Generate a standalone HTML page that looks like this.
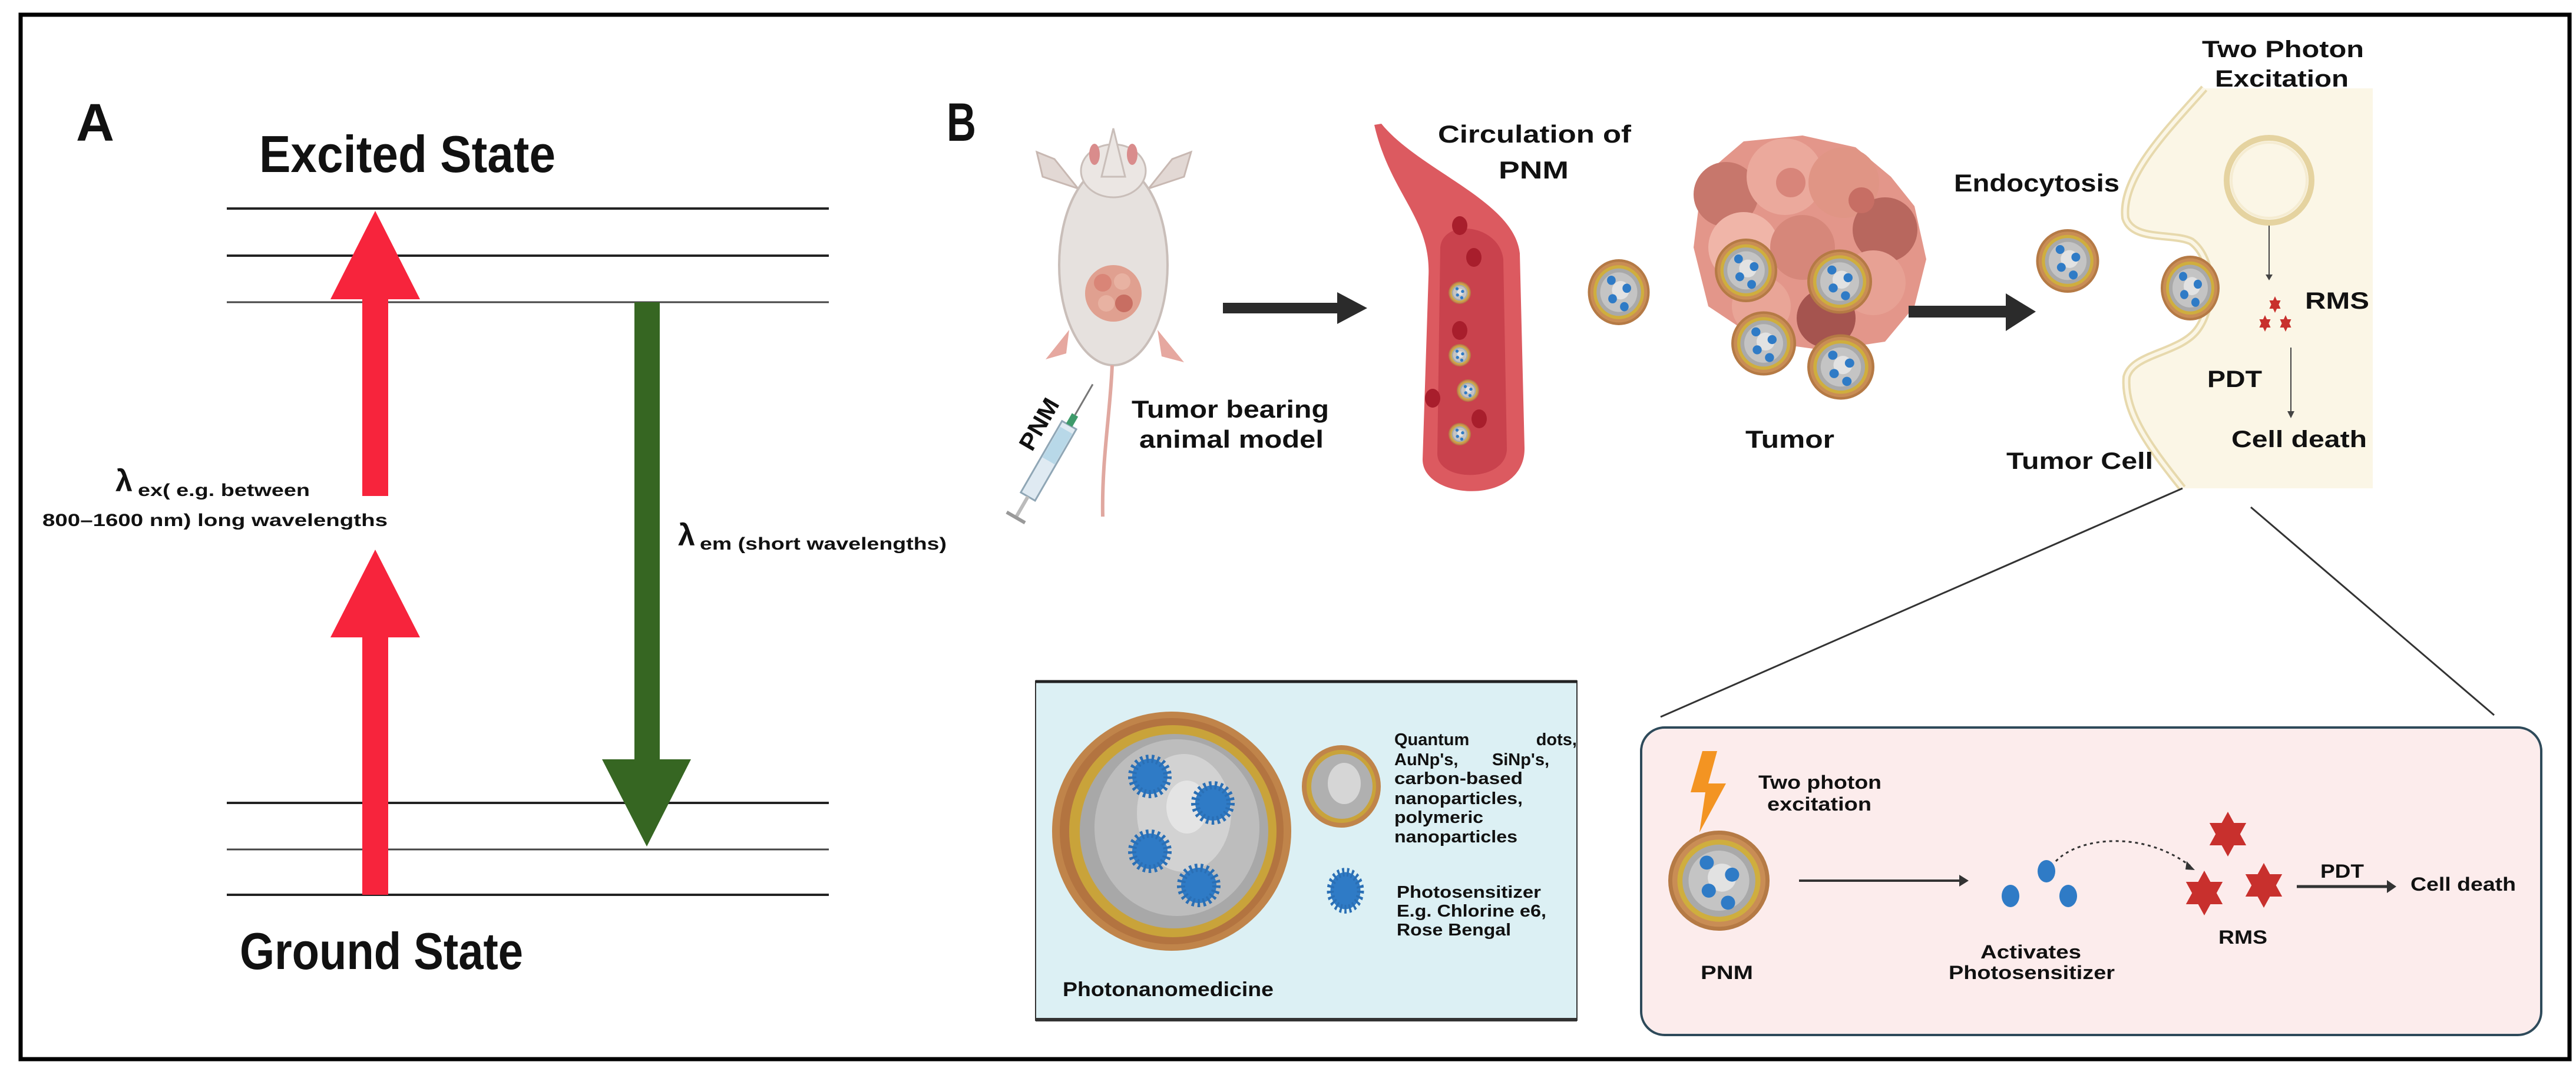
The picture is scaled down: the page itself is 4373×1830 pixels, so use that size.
<!DOCTYPE html>
<html><head><meta charset="utf-8"><style>
html,body{margin:0;padding:0;background:#fff;}
svg{display:block;}
text{font-family:"Liberation Sans",sans-serif;font-weight:bold;fill:#111;}
</style></head><body>
<svg width="4373" height="1830" viewBox="0 0 4373 1830" xmlns="http://www.w3.org/2000/svg">
<defs>
<g id="np">
<circle r="50" fill="#b57a45"/>
<circle r="46" fill="#c98d55"/>
<circle r="41" fill="#cfae3e"/>
<circle r="36" fill="#a9a9a9"/>
<circle r="30" fill="#c4c4c4"/>
<circle r="14" cx="3" cy="-3" fill="#e2e2e2"/>
<circle r="7" cx="-12" cy="-18" fill="#2f7bc6"/>
<circle r="7" cx="13" cy="-6" fill="#2f7bc6"/>
<circle r="7" cx="-10" cy="10" fill="#2f7bc6"/>
<circle r="7" cx="9" cy="22" fill="#2f7bc6"/>
</g>
<polygon id="star" points="0,-1 0.289,-0.5 0.866,-0.5 0.577,0 0.866,0.5 0.289,0.5 0,1 -0.289,0.5 -0.866,0.5 -0.577,0 -0.866,-0.5 -0.289,-0.5" fill="#c8302d"/>
<g id="ps"><circle r="30" fill="#2f7bc6" stroke="#2a6fb5" stroke-width="14" stroke-dasharray="4 5"/></g>
</defs>

<!-- outer frame -->
<rect x="35" y="25" width="4327" height="1773" fill="none" stroke="#000" stroke-width="7"/>

<!-- Panel A -->
<text x="129" y="239" font-size="90">A</text>
<text x="440" y="292" font-size="88" textLength="503" lengthAdjust="spacingAndGlyphs">Excited  State</text>
<g stroke="#222" stroke-width="4">
<line x1="385" y1="354" x2="1407" y2="354"/>
<line x1="385" y1="434" x2="1407" y2="434"/>
<line x1="385" y1="513" x2="1407" y2="513" stroke="#444" stroke-width="3"/>
<line x1="385" y1="1363" x2="1407" y2="1363"/>
<line x1="385" y1="1442" x2="1407" y2="1442" stroke="#444" stroke-width="3"/>
<line x1="385" y1="1519" x2="1407" y2="1519"/>
</g>
<rect x="615" y="506" width="44" height="336" fill="#f7243c"/>
<polygon points="637,358 561,508 713,508" fill="#f7243c"/>
<rect x="615" y="1080" width="44" height="439" fill="#f7243c"/>
<polygon points="637,933 561,1082 713,1082" fill="#f7243c"/>
<rect x="1077" y="513" width="43" height="778" fill="#366622"/>
<polygon points="1022,1289 1173,1289 1098,1437" fill="#366622"/>
<text x="196" y="834" font-size="52">λ</text>
<text x="234" y="842" font-size="30" textLength="292" lengthAdjust="spacingAndGlyphs">ex( e.g. between</text>
<text x="72" y="893" font-size="30" textLength="586" lengthAdjust="spacingAndGlyphs">800–1600 nm) long wavelengths</text>
<text x="1151" y="926" font-size="52">λ</text>
<text x="1188" y="933" font-size="30" textLength="419" lengthAdjust="spacingAndGlyphs">em (short wavelengths)</text>
<text x="407" y="1645" font-size="88" textLength="481" lengthAdjust="spacingAndGlyphs">Ground State</text>

<!-- Panel B -->
<text x="1607" y="239" font-size="92" textLength="50" lengthAdjust="spacingAndGlyphs">B</text>

<!-- mouse -->
<g>
<path d="M1790,270 L1760,258 L1770,300 L1830,320 Z" fill="#e2d8d4" stroke="#c8b8b2" stroke-width="3"/>
<path d="M1990,270 L2022,258 L2010,300 L1950,320 Z" fill="#e2d8d4" stroke="#c8b8b2" stroke-width="3"/>
<ellipse cx="1890" cy="450" rx="92" ry="170" fill="#e6e1de" stroke="#c9beb9" stroke-width="4"/>
<ellipse cx="1890" cy="290" rx="55" ry="45" fill="#ebe6e3" stroke="#c9beb9" stroke-width="3"/>
<path d="M1870,300 L1890,218 L1910,300 Z" fill="#ebe6e3" stroke="#c9beb9" stroke-width="3"/>
<ellipse cx="1858" cy="262" rx="9" ry="18" fill="#d98c8c"/>
<ellipse cx="1922" cy="262" rx="9" ry="18" fill="#d98c8c"/>
<path d="M1815,560 L1775,610 L1810,600 Z" fill="#e6a8a0"/>
<path d="M1965,560 L2010,615 L1972,605 Z" fill="#e6a8a0"/>
<ellipse cx="1890" cy="498" rx="48" ry="48" fill="#e0a090"/>
<circle cx="1872" cy="480" r="15" fill="#d98577"/><circle cx="1905" cy="478" r="14" fill="#e8b2a2"/>
<circle cx="1878" cy="515" r="14" fill="#e8b2a2"/><circle cx="1908" cy="515" r="15" fill="#c86e62"/>
<path d="M1888,620 C1885,700 1870,780 1872,877" stroke="#e0a8a0" stroke-width="6" fill="none"/>
</g>
<!-- syringe -->
<g transform="translate(1790,765) rotate(-60)">
<rect x="-90" y="-14" width="140" height="28" fill="#dfeaf2" stroke="#8fa6b5" stroke-width="3"/>
<rect x="-20" y="-12" width="60" height="24" fill="#b8d8e8"/>
<rect x="50" y="-6" width="20" height="12" fill="#3e9a6a"/>
<line x1="70" y1="0" x2="130" y2="0" stroke="#777" stroke-width="3"/>
<rect x="-130" y="-3" width="40" height="6" fill="#bbb"/>
<rect x="-134" y="-18" width="6" height="36" fill="#999"/>
</g>
<text transform="translate(1752,768) rotate(-60)" font-size="40" textLength="95" lengthAdjust="spacingAndGlyphs">PNM</text>
<text x="1921" y="709" font-size="42" textLength="335" lengthAdjust="spacingAndGlyphs">Tumor bearing</text>
<text x="1934" y="760" font-size="42" textLength="313" lengthAdjust="spacingAndGlyphs">animal model</text>

<!-- arrow 1 -->
<rect x="2076" y="514" width="200" height="18" fill="#2b2b2b"/>
<polygon points="2270,496 2321,523 2270,550" fill="#2b2b2b"/>

<!-- vessel -->
<path d="M2333,212 C2360,330 2430,370 2425,470 L2415,780 C2415,850 2590,860 2588,760 L2580,430 C2570,340 2410,290 2345,210 Z" fill="#dc5a60"/>
<path d="M2445,420 L2440,770 C2440,820 2560,820 2558,760 L2552,440 C2545,380 2450,370 2445,420 Z" fill="#c9424d"/>
<g fill="#a81e2c">
<ellipse cx="2478" cy="383" rx="13" ry="16"/><ellipse cx="2502" cy="437" rx="13" ry="16"/>
<ellipse cx="2478" cy="561" rx="13" ry="16"/><ellipse cx="2432" cy="676" rx="13" ry="16"/>
<ellipse cx="2511" cy="711" rx="13" ry="16"/></g>
<use href="#np" transform="translate(2478,497) scale(0.38)"/>
<use href="#np" transform="translate(2478,603) scale(0.38)"/>
<use href="#np" transform="translate(2492,663) scale(0.38)"/>
<use href="#np" transform="translate(2478,737) scale(0.38)"/>
<text x="2441" y="242" font-size="42" textLength="328" lengthAdjust="spacingAndGlyphs">Circulation of</text>
<text x="2544" y="303" font-size="42" textLength="119" lengthAdjust="spacingAndGlyphs">PNM</text>
<use href="#np" transform="translate(2748,496) scale(1.05,1.12)"/>

<!-- tumor -->
<g>
<path d="M2890,300 L2960,240 L3060,230 L3150,250 L3210,300 L3250,350 L3270,440 L3250,520 L3200,580 L3100,595 L2990,580 L2900,520 L2875,420 Z" fill="#e3968a"/>
<circle cx="2930" cy="330" r="55" fill="#c7776c"/><circle cx="3030" cy="300" r="65" fill="#eba99c"/>
<circle cx="3130" cy="310" r="60" fill="#e09585"/><circle cx="3200" cy="390" r="55" fill="#b8675e"/>
<circle cx="2960" cy="420" r="60" fill="#f0b5a8"/><circle cx="3060" cy="420" r="55" fill="#d6877a"/>
<circle cx="3180" cy="480" r="55" fill="#e7a194"/><circle cx="2990" cy="520" r="50" fill="#e9a597"/>
<circle cx="3100" cy="540" r="50" fill="#a5544f"/><circle cx="3040" cy="310" r="25" fill="#d8857a"/>
<circle cx="3160" cy="340" r="22" fill="#c76e64"/>
</g>
<use href="#np" transform="translate(2964,459) scale(1.06,1.08)"/>
<use href="#np" transform="translate(3123,478) scale(1.1,1.09)"/>
<use href="#np" transform="translate(2994,583) scale(1.1,1.09)"/>
<use href="#np" transform="translate(3125,623) scale(1.14,1.11)"/>
<text x="2963" y="760" font-size="42" textLength="151" lengthAdjust="spacingAndGlyphs">Tumor</text>

<!-- arrow 2 -->
<rect x="3240" y="519" width="170" height="20" fill="#2b2b2b"/>
<polygon points="3405,498 3456,529 3405,562" fill="#2b2b2b"/>
<text x="3317" y="325" font-size="42" textLength="281" lengthAdjust="spacingAndGlyphs">Endocytosis</text>
<use href="#np" transform="translate(3510,443) scale(1.07,1.08)"/>

<!-- cell -->
<path d="M3742,150 L4028,150 L4028,829 L3705,829 C3650,760 3605,700 3610,640 C3620,600 3700,600 3730,560 C3760,520 3760,440 3720,410 C3690,395 3620,410 3608,370 C3600,300 3680,220 3742,150 Z" fill="#fbf6e6"/>
<path d="M3742,150 C3680,220 3600,300 3608,370 C3620,410 3690,395 3720,410 C3760,440 3760,520 3730,560 C3700,600 3620,600 3610,640 C3605,700 3650,760 3705,829" fill="none" stroke="#e7d9ad" stroke-width="14"/>
<path d="M3742,150 C3680,220 3600,300 3608,370 C3620,410 3690,395 3720,410 C3760,440 3760,520 3730,560 C3700,600 3620,600 3610,640 C3605,700 3650,760 3705,829" fill="none" stroke="#fbf6e6" stroke-width="6"/>
<ellipse cx="3852" cy="306" rx="72" ry="72" fill="none" stroke="#e5d3a0" stroke-width="10"/>
<ellipse cx="3852" cy="306" rx="64" ry="64" fill="none" stroke="#f5ecd2" stroke-width="4"/>
<use href="#np" transform="translate(3718,489) scale(1.0,1.1)"/>
<line x1="3852" y1="383" x2="3852" y2="468" stroke="#444" stroke-width="2"/>
<polygon points="3846,466 3858,466 3852,476" fill="#444"/>
<use href="#star" transform="translate(3862,517) scale(11,14)"/>
<use href="#star" transform="translate(3845,549) scale(11,14)"/>
<use href="#star" transform="translate(3880,549) scale(11,14)"/>
<text x="3913" y="524" font-size="40" textLength="109" lengthAdjust="spacingAndGlyphs">RMS</text>
<text x="3747" y="657" font-size="40" textLength="93" lengthAdjust="spacingAndGlyphs">PDT</text>
<line x1="3889" y1="590" x2="3889" y2="700" stroke="#444" stroke-width="2"/>
<polygon points="3883,698 3895,698 3889,710" fill="#444"/>
<text x="3788" y="759" font-size="40" textLength="230" lengthAdjust="spacingAndGlyphs">Cell death</text>
<text x="3406" y="796" font-size="40" textLength="249" lengthAdjust="spacingAndGlyphs">Tumor Cell</text>
<text x="3738" y="97" font-size="40" textLength="275" lengthAdjust="spacingAndGlyphs">Two Photon</text>
<text x="3760" y="147" font-size="40" textLength="227" lengthAdjust="spacingAndGlyphs">Excitation</text>

<!-- zoom lines -->
<line x1="3705" y1="829" x2="2819" y2="1217" stroke="#333" stroke-width="3"/>
<line x1="3821" y1="861" x2="4234" y2="1214" stroke="#333" stroke-width="3"/>

<!-- blue box -->
<rect x="1758" y="1156" width="919" height="576" fill="#dcf0f4" stroke="#333" stroke-width="2"/>
<line x1="1758" y1="1157" x2="2677" y2="1157" stroke="#222" stroke-width="5"/>
<line x1="1758" y1="1731" x2="2677" y2="1731" stroke="#333" stroke-width="6"/>
<g>
<ellipse cx="1989" cy="1411" rx="203" ry="203" fill="#c0844a"/>
<ellipse cx="1989" cy="1411" rx="190" ry="192" fill="#b37440"/>
<ellipse cx="1991" cy="1411" rx="176" ry="180" fill="#c9a33a"/>
<ellipse cx="1993" cy="1411" rx="160" ry="165" fill="#a8a8a8"/>
<ellipse cx="1998" cy="1405" rx="140" ry="150" fill="#bdbdbd"/>
<ellipse cx="2010" cy="1380" rx="80" ry="100" fill="#d2d2d2"/>
<ellipse cx="2015" cy="1370" rx="35" ry="45" fill="#e4e4e4"/>
</g>
<use href="#ps" transform="translate(1952,1318)"/>
<use href="#ps" transform="translate(2059,1363)"/>
<use href="#ps" transform="translate(1952,1445)"/>
<use href="#ps" transform="translate(2035,1503)"/>
<g>
<ellipse cx="2277" cy="1335" rx="67" ry="70" fill="#c0844a"/>
<ellipse cx="2277" cy="1335" rx="59" ry="62" fill="#c9a33a"/>
<ellipse cx="2278" cy="1335" rx="52" ry="55" fill="#b0b0b0"/>
<ellipse cx="2282" cy="1330" rx="28" ry="35" fill="#d6d6d6"/>
</g>
<use href="#ps" transform="translate(2284,1512) scale(0.85,1.05)"/>
<g font-size="29">
<text x="2367" y="1265">Quantum</text><text x="2677" y="1265" text-anchor="end">dots,</text>
<text x="2367" y="1299">AuNp's,</text><text x="2630" y="1299" text-anchor="end">SiNp's,</text>
<text x="2367" y="1331" textLength="218" lengthAdjust="spacingAndGlyphs">carbon-based</text>
<text x="2367" y="1365" textLength="218" lengthAdjust="spacingAndGlyphs">nanoparticles,</text>
<text x="2367" y="1397" textLength="151" lengthAdjust="spacingAndGlyphs">polymeric</text>
<text x="2367" y="1430" textLength="209" lengthAdjust="spacingAndGlyphs">nanoparticles</text>
<text x="2371" y="1524" textLength="245" lengthAdjust="spacingAndGlyphs">Photosensitizer</text>
<text x="2371" y="1556" textLength="254" lengthAdjust="spacingAndGlyphs">E.g. Chlorine e6,</text>
<text x="2371" y="1588" textLength="194" lengthAdjust="spacingAndGlyphs">Rose Bengal</text>
</g>
<text x="1804" y="1691" font-size="34" textLength="358" lengthAdjust="spacingAndGlyphs">Photonanomedicine</text>

<!-- pink box -->
<rect x="2786" y="1235" width="1528" height="522" rx="40" ry="40" fill="#fcecec" stroke="#2e4a5a" stroke-width="4"/>
<polygon points="2890,1275 2915,1275 2900,1330 2930,1330 2885,1413 2895,1345 2870,1345" fill="#f39422"/>
<text x="2985" y="1339" font-size="32" textLength="209" lengthAdjust="spacingAndGlyphs">Two photon</text>
<text x="3000" y="1376" font-size="32" textLength="177" lengthAdjust="spacingAndGlyphs">excitation</text>
<use href="#np" transform="translate(2918,1495) scale(1.72,1.7)"/>
<text x="2887" y="1662" font-size="32" textLength="89" lengthAdjust="spacingAndGlyphs">PNM</text>
<line x1="3054" y1="1495" x2="3330" y2="1495" stroke="#333" stroke-width="4"/>
<polygon points="3326,1485 3342,1495 3326,1505" fill="#333"/>
<ellipse cx="3474" cy="1479" rx="15" ry="19" fill="#2f7bc6"/>
<ellipse cx="3413" cy="1521" rx="15" ry="19" fill="#2f7bc6"/>
<ellipse cx="3511" cy="1521" rx="15" ry="19" fill="#2f7bc6"/>
<path d="M3490,1462 C3530,1420 3640,1410 3718,1470" fill="none" stroke="#333" stroke-width="3" stroke-dasharray="5 6"/>
<polygon points="3712,1462 3726,1477 3710,1476" fill="#333"/>
<use href="#star" transform="translate(3782,1416) scale(36,38)"/>
<use href="#star" transform="translate(3742,1516) scale(36,38)"/>
<use href="#star" transform="translate(3843,1503) scale(36,38)"/>
<text x="3308" y="1627" font-size="32" textLength="0" lengthAdjust="spacingAndGlyphs"></text>
<text x="3362" y="1627" font-size="32" textLength="171" lengthAdjust="spacingAndGlyphs">Activates</text>
<text x="3308" y="1662" font-size="32" textLength="282" lengthAdjust="spacingAndGlyphs">Photosensitizer</text>
<text x="3766" y="1602" font-size="32" textLength="83" lengthAdjust="spacingAndGlyphs">RMS</text>
<line x1="3899" y1="1505" x2="4055" y2="1505" stroke="#333" stroke-width="5"/>
<polygon points="4052,1494 4068,1505 4052,1516" fill="#333"/>
<text x="3939" y="1490" font-size="32" textLength="74" lengthAdjust="spacingAndGlyphs">PDT</text>
<text x="4092" y="1512" font-size="32" textLength="179" lengthAdjust="spacingAndGlyphs">Cell death</text>
</svg>
</body></html>
